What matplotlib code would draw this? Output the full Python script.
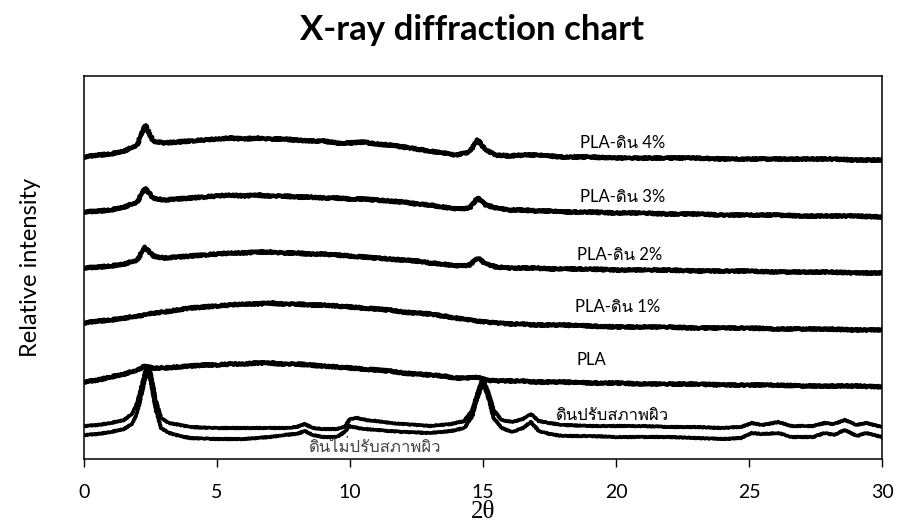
import matplotlib
matplotlib.use("Agg")
import matplotlib.pyplot as plt
from matplotlib import font_manager
from matplotlib.ft2font import FT2Font

# x-ray diffraction patterns, intensities (arbitrary units)
x_pla = [0, 0.5, 1, 1.5, 2, 2.3, 2.6, 3, 3.5, 4,
         4.5, 5, 5.5, 6, 6.5, 7, 7.5, 8, 8.5, 9,
         9.5, 10, 10.5, 11, 11.5, 12, 12.5, 13, 13.5, 14,
         14.5, 14.8, 15.1, 15.5, 16, 16.5, 17, 17.5, 18, 19,
         20, 21, 22, 23, 24, 25, 26, 27, 28, 29, 30]

pla_4 = [302, 304, 305, 308, 314, 334, 318, 316, 317, 318,
         319, 320, 321, 320, 321, 320, 320, 319, 318, 318,
         316, 316, 317, 315, 314, 312, 310, 308, 306, 304,
         307, 319, 309, 304, 303, 304, 304, 303, 302, 302,
         301, 301, 301, 301, 300, 300, 300, 300, 300, 299, 299]
pla_3 = [247, 248, 249, 252, 257, 271, 261, 259, 260, 261,
         262, 263, 264, 263, 264, 263, 263, 262, 262, 261,
         261, 260, 260, 259, 258, 257, 255, 254, 252, 250,
         251, 261, 254, 251, 249, 249, 248, 248, 247, 247,
         246, 246, 245, 245, 244, 244, 244, 243, 243, 243, 242]
pla_2 = [191, 192, 193, 195, 199, 212, 203, 201, 202, 203,
         204, 205, 206, 206, 207, 207, 206, 206, 205, 205,
         204, 203, 202, 201, 200, 199, 198, 196, 195, 193,
         194, 201, 195, 192, 191, 191, 191, 190, 190, 190,
         189, 189, 189, 188, 188, 188, 187, 187, 187, 186, 186]
pla_1 = [136, 138, 139, 141, 143, 144, 146, 147, 149, 151,
         152, 153, 154, 155, 155, 156, 155, 155, 154, 154,
         153, 152, 151, 150, 149, 147, 146, 145, 143, 141,
         139, 138, 137, 136, 135, 135, 134, 134, 134, 133,
         132, 132, 132, 131, 131, 131, 130, 130, 130, 129, 129]
pla_0 = [77, 79, 82, 85, 89, 93, 91, 91, 92, 93,
         94, 94, 95, 95, 96, 96, 95, 95, 94, 93,
         92, 91, 90, 89, 88, 86, 85, 84, 83, 81,
         81, 82, 79, 78, 78, 78, 77, 77, 77, 76,
         76, 75, 75, 75, 74, 74, 74, 73, 73, 73, 72]

x_clay = [0, 0.5, 1, 1.5, 1.8, 2.0, 2.2, 2.35, 2.5, 2.7,
          2.9, 3.2, 3.6, 4, 5, 6, 7, 7.5, 8, 8.3,
          8.6, 9, 9.5, 9.8, 10.0, 10.3, 10.6, 11, 11.5, 12,
          13, 13.8, 14.3, 14.6, 14.8, 15.0, 15.2, 15.4, 15.7, 16.1,
          16.5, 16.8, 17.1, 17.5, 18, 19, 20, 21, 22, 23,
          24, 24.7, 25.1, 25.5, 26.1, 26.6, 27.4, 27.85, 28.2, 28.6,
          29.05, 29.4, 30]
clay_treated = [33, 34, 36, 39, 45, 56, 77, 93, 87, 59,
                41, 36, 34, 32, 31, 31, 31, 31, 32, 35,
                31, 30, 30, 32, 40, 41, 39, 38, 36, 35,
                33, 35, 38, 49, 67, 81, 67, 49, 39, 37,
                40, 45, 38, 36, 34, 33, 33, 33, 32, 32,
                31, 32, 36, 34, 37, 33, 33, 36, 35, 39,
                34, 36, 32]
clay_raw = [24, 25, 27, 30, 35, 46, 69, 87, 79, 49,
            31, 26, 23, 21, 20, 20, 22, 24, 25, 28,
            24, 22, 22, 27, 33, 31, 30, 29, 28, 27,
            26, 28, 31, 43, 61, 77, 61, 41, 31, 27,
            31, 37, 28, 25, 23, 23, 22, 22, 22, 21,
            20, 21, 26, 25, 26, 22, 22, 26, 24, 29,
            23, 26, 22]

labels = ["PLA-ดิน 4%", "PLA-ดิน 3%", "PLA-ดิน 2%", "PLA-ดิน 1%", "PLA",
          "ดินปรับสภาพผิว", "ดินไม่ปรับสภาพผิว"]
label_x = [20.26, 20.26, 20.15, 20.08, 19.06, 19.85, 10.94]
label_y = [316, 262, 204, 152, 99, 44, 12]

# find an installed font that has thai glyphs
thai = None
for f in font_manager.fontManager.ttflist:
    try:
        if 0x0E14 in FT2Font(f.fname).get_charmap():
            thai = f.name
            break
    except Exception:
        pass
fams = ["Lato"] + ([thai] if thai else []) + ["DejaVu Sans"]
plt.rcParams["font.family"] = fams

fig = plt.figure(figsize=(9, 5.29), dpi=100)
ax = fig.add_axes([0.0933, 0.1323, 0.8867, 0.724])

for y in [pla_4, pla_3, pla_2, pla_1, pla_0]:
    ln, = ax.plot(x_pla, y, color="black", lw=3.2, solid_joinstyle="round")
    ln.set_sketch_params(scale=0.9, length=3, randomness=2)
for y in [clay_treated, clay_raw]:
    ln, = ax.plot(x_clay, y, color="black", lw=2.6, solid_joinstyle="round")
    ln.set_sketch_params(scale=0.5, length=3, randomness=2)

for i, t in enumerate(labels):
    col = "#444444" if i == 6 else "black"
    ax.text(label_x[i], label_y[i], t, ha="center", va="center",
            fontsize=12, color=col)

ax.set_xlim(0, 30)
ax.set_ylim(0, 383)
ax.set_xticks([0, 5, 10, 15, 20, 25, 30])
ax.set_yticks([])
ax.tick_params(axis="x", direction="out", length=6, width=1, labelsize=14, pad=12)
for s in ax.spines.values():
    s.set_linewidth(1.1)

ax.set_xlabel("2θ", fontsize=18, family="Liberation Serif", labelpad=0)
ax.set_ylabel("Relative intensity", fontsize=17, labelpad=31)
fig.text(0.525, 0.943, "X-ray diffraction chart", fontsize=25, fontweight="bold",
         ha="center", va="center")

fig.savefig("out.png", dpi=100)
